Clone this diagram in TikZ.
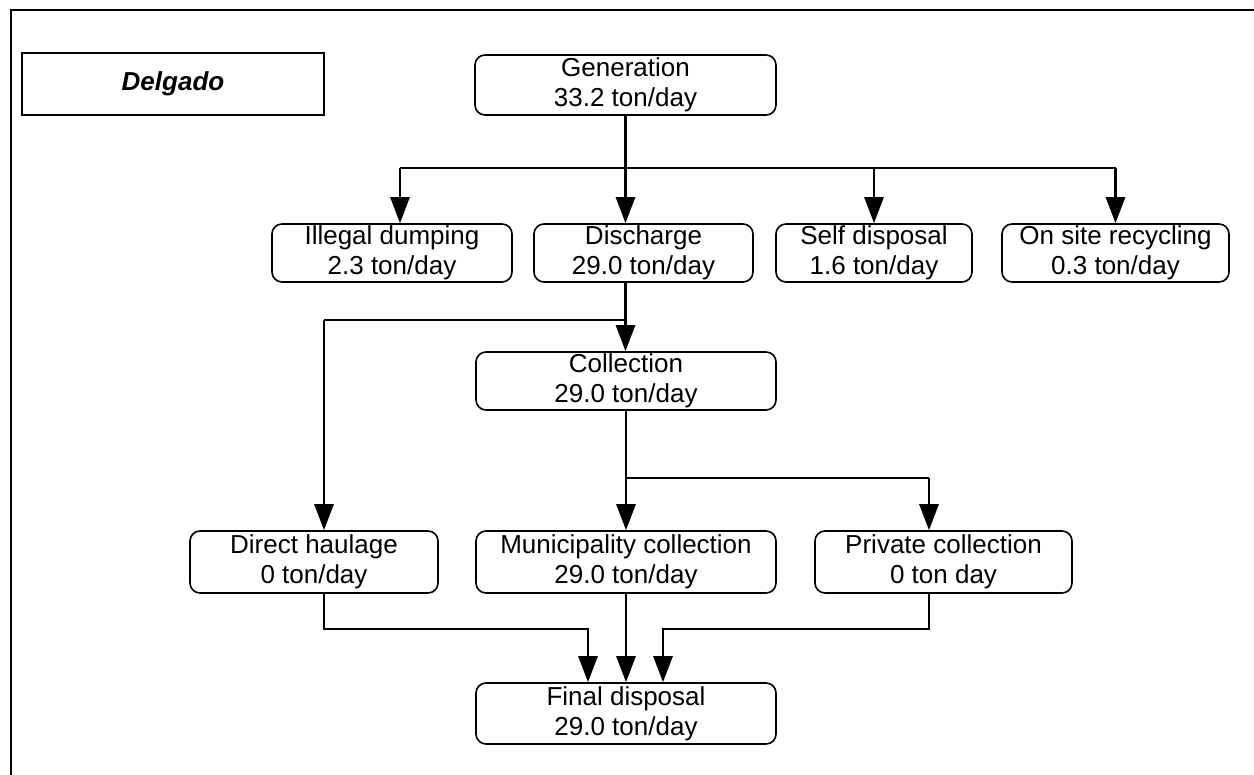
\documentclass[tikz,border=0pt]{standalone}
\usepackage{fontspec}
\setmainfont{Liberation Sans}
\usetikzlibrary{arrows.meta,calc}
\begin{document}
\begin{tikzpicture}[x=0.5pt,y=-0.5pt,
  box/.style={draw,rounded corners=5pt,line width=0.8pt,align=center,inner sep=0pt,
    font=\fontsize{13}{15}\selectfont,minimum height=29pt},
  titlebox/.style={draw,line width=0.9pt,inner sep=0pt,minimum width=151pt,minimum height=31pt,
    font=\fontsize{13}{15}\selectfont\bfseries\itshape},
  conn/.style={line width=1.4pt},
  arr/.style={line width=1.4pt,-{Triangle[width=9.5pt,length=13pt]}},
  frame/.style={line width=1pt}]
\useasboundingbox (0,0) rectangle (1254,775);
% frame (top and left edges)
\coordinate (ftl) at (11,10);
\coordinate (ftr) at (1254,10);
\coordinate (fbl) at (11,775);
\draw[frame] (fbl) -- (ftl) -- (ftr);
% title
\node[titlebox] (title) at (173,84) {Delgado};
% nodes
\node[box,minimum width=150.5pt,minimum height=30pt] (gen) at (625.5,85) {Generation\\33.2 ton/day};
\node[box,minimum width=120pt] (ill) at (392,253) {Illegal dumping\\2.3 ton/day};
\node[box,minimum width=109.5pt] (dis) at (643.5,253) {Discharge\\29.0 ton/day};
\node[box,minimum width=98pt] (self) at (874,253) {Self disposal\\1.6 ton/day};
\node[box,minimum width=113.5pt] (ons) at (1115.5,253) {On site recycling\\0.3 ton/day};
\node[box,minimum width=150pt] (col) at (626,381) {Collection\\29.0 ton/day};
\node[box,minimum width=124pt,minimum height=31pt] (dh) at (314,562) {Direct haulage\\0 ton/day};
\node[box,minimum width=150pt,minimum height=31pt] (mun) at (626,562) {Municipality collection\\29.0 ton/day};
\node[box,minimum width=128.5pt,minimum height=31pt] (pri) at (943.5,562) {Private collection\\0 ton day};
\node[box,minimum width=150pt,minimum height=30.5pt] (fin) at (626,713.5) {Final disposal\\29.0 ton/day};
% junction coordinates
\coordinate (j1) at (625.5,168);
\coordinate (j2) at (625.5,320);
\coordinate (j3) at (626,478);
\coordinate (j4) at (626,629);
\coordinate (illa) at ($(ill.north)+(8,0)$);
\coordinate (dha) at ($(dh.north)+(10,0)$);
\coordinate (dhb) at ($(dh.south)+(10,0)$);
\coordinate (pria) at ($(pri.north)+(-14.5,0)$);
\coordinate (prib) at ($(pri.south)+(-14.5,0)$);
\coordinate (fina) at ($(fin.north)+(-38,0)$);
\coordinate (finc) at ($(fin.north)+(37,0)$);
% generation split
\draw[conn] (illa |- j1) -- (ons.north |- j1);
\draw[arr] (gen.south) -- (gen.south |- dis.north);
\draw[arr] (illa |- j1) -- (illa);
\draw[arr] (self.north |- j1) -- (self.north);
\draw[arr] (ons.north |- j1) -- (ons.north);
% discharge split
\draw[conn] (dis.south -| j2) -- (j2) -- (dha |- j2);
\draw[arr] (j2) -- (col.north -| j2);
\draw[arr] (dha |- j2) -- (dha);
% collection split
\draw[conn] (col.south) -- (j3) -- (pria |- j3);
\draw[arr] (j3) -- (mun.north);
\draw[arr] (pria |- j3) -- (pria);
% to final disposal
\draw[arr] (dhb) -- (dhb |- j4) -- (fina |- j4) -- (fina);
\draw[arr] (mun.south) -- (fin.north);
\draw[arr] (prib) -- (prib |- j4) -- (finc |- j4) -- (finc);
\end{tikzpicture}
\end{document}
